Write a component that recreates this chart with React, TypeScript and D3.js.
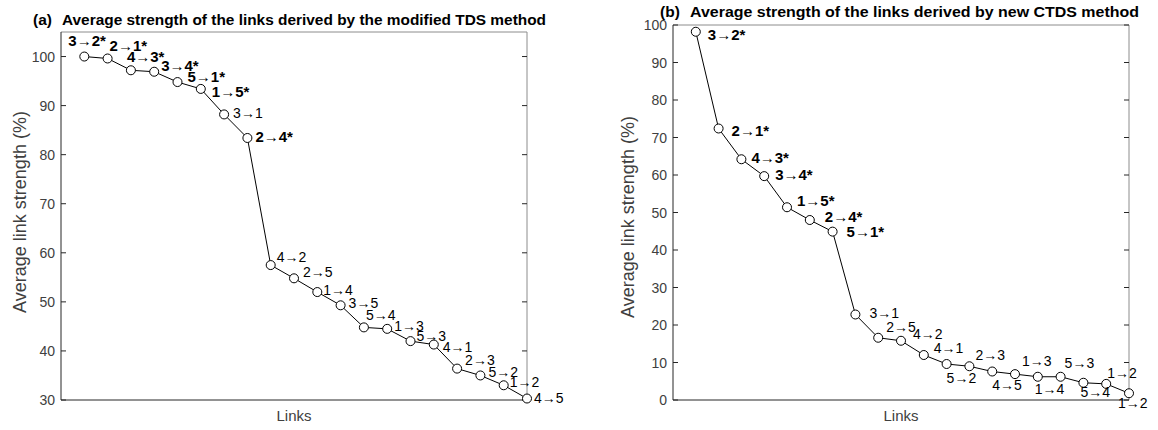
import React from "react";
import * as d3 from "d3";

// panel (a): modified TDS
const linksA = ["3→2*", "2→1*", "4→3*", "3→4*", "5→1*", "1→5*", "3→1", "2→4*", "4→2", "2→5",
    "1→4", "3→5", "5→4", "1→3", "5→3", "4→1", "2→3", "5→2", "1→2", "4→5"];
const valuesA = [100, 99.6, 97.2, 96.9, 94.8, 93.4, 88.2, 83.4, 57.5, 54.8,
    52.0, 49.3, 44.8, 44.5, 42.0, 41.3, 36.4, 35.0, 33.0, 30.3];
const ticksA = [30, 40, 50, 60, 70, 80, 90, 100];

// panel (b): new CTDS
const linksB = ["3→2*", "2→1*", "4→3*", "3→4*", "1→5*", "2→4*", "5→1*", "3→1", "2→5", "4→2",
    "4→1", "5→2", "2→3", "4→5", "1→3", "1→4", "5→3", "5→4", "1→2", "1→2"];
const valuesB = [98.2, 72.4, 64.2, 59.7, 51.4, 48.0, 44.9, 22.8, 16.6, 15.8,
    12.0, 9.6, 9.0, 7.6, 6.9, 6.2, 6.2, 4.6, 4.3, 1.8];
const ticksB = [0, 10, 20, 30, 40, 50, 60, 70, 80, 90, 100];

// label offsets from each marker [dx, dy]
const offA = [[-16, -11], [2, -7], [-4, -8], [7, -1], [10, 0], [11, 8], [9, 4], [8, 4], [6, -3], [9, -1],
    [6, 3], [8, 3], [2, -7], [7, 2], [6, 0], [9, 7], [8, -4], [8, 2], [6, 2], [7, 4]];
const offB = [[12, 8], [13, 7], [10, 4], [11, 4], [10, -1], [15, 2], [14, 5], [14, 3], [8, -6], [12, -2],
    [10, -2], [0, 19], [6, -6], [0, 18], [7, -8], [-3, 17], [4, -9], [-3, 14], [1, -6], [-11, 15]];

const FONT = "'Liberation Sans', Arial, Helvetica, sans-serif";
const AX = "#262626";
const BOX = "#8c8c8c";

type PanelProps = {
    tag: string;
    title: string;
    tagX: number;
    titleX: number;
    titleW: number;
    titleY: number;
    left: number;
    right: number;
    top: number;
    bottom: number;
    domain: [number, number];
    ticks: number[];
    links: string[];
    values: number[];
    offsets: number[][];
    ylabelX: number;
    ylabelY: number;
};

const Panel = (p: PanelProps) => {
    const x = d3.scaleLinear().domain([0, p.values.length]).range([p.left, p.right]);
    const y = d3.scaleLinear().domain(p.domain).range([p.bottom, p.top]);
    const line = d3
        .line<number>()
        .x((d, i) => x(i + 1))
        .y((d) => y(d));

    return (
        <g>
            <text x={p.tagX} y={p.titleY} fontSize={15.5} fontWeight="bold" fill="#000">
                {p.tag}
            </text>
            <text
                x={p.titleX}
                y={p.titleY}
                fontSize={15.5}
                fontWeight="bold"
                fill="#000"
                textLength={p.titleW}
                lengthAdjust="spacingAndGlyphs"
            >
                {p.title}
            </text>
            {/* box */}
            <line x1={p.left} x2={p.right} y1={p.top} y2={p.top} stroke={BOX} />
            <line x1={p.right} x2={p.right} y1={p.top} y2={p.bottom} stroke={BOX} />
            <line x1={p.left} x2={p.right} y1={p.bottom} y2={p.bottom} stroke={AX} />
            <line x1={p.left} x2={p.left} y1={p.top} y2={p.bottom} stroke={AX} />
            {p.ticks.map((t) => (
                <g key={t}>
                    <line x1={p.left} x2={p.left + 5} y1={y(t)} y2={y(t)} stroke={AX} />
                    <line x1={p.right - 5} x2={p.right} y1={y(t)} y2={y(t)} stroke={AX} />
                    <text x={p.left - 6} y={y(t) + 5} textAnchor="end" fontSize={14} fill="#404040">
                        {t}
                    </text>
                </g>
            ))}
            <text
                transform={`translate(${p.ylabelX},${p.ylabelY}) rotate(-90)`}
                textAnchor="middle"
                fontSize={18}
                fill="#404040"
            >
                Average link strength (%)
            </text>
            <text x={(p.left + p.right) / 2} y={421} textAnchor="middle" fontSize={15} fill="#404040">
                Links
            </text>
            <path d={line(p.values) || ""} fill="none" stroke="#000" strokeWidth={1} />
            {p.values.map((v, i) => (
                <circle key={i} cx={x(i + 1)} cy={y(v)} r={4.5} fill="#fff" stroke="#000" strokeWidth={1} />
            ))}
            {p.values.map((v, i) => {
                const bold = p.links[i].includes("*");
                return (
                    <text
                        key={i}
                        x={x(i + 1) + p.offsets[i][0]}
                        y={y(v) + p.offsets[i][1]}
                        fontSize={bold ? 15 : 14}
                        fontWeight={bold ? "bold" : "normal"}
                        fill="#000"
                    >
                        {p.links[i]}
                    </text>
                );
            })}
        </g>
    );
};

export default function App() {
    return (
        <svg
            width={1158}
            height={430}
            style={{ position: "absolute", left: 0, top: 0, background: "#fff" }}
            fontFamily={FONT}
        >
            <Panel
                tag="(a)"
                title="Average strength of the links derived by the modified TDS method"
                tagX={33}
                titleX={62}
                titleW={484}
                titleY={25}
                left={61}
                right={527}
                top={32}
                bottom={400}
                domain={[30, 105]}
                ticks={ticksA}
                links={linksA}
                values={valuesA}
                offsets={offA}
                ylabelX={26}
                ylabelY={212}
            />
            <Panel
                tag="(b)"
                title="Average strength of the links derived by new CTDS method"
                tagX={660}
                titleX={690}
                titleW={449}
                titleY={17}
                left={673}
                right={1129}
                top={25}
                bottom={400}
                domain={[0, 100]}
                ticks={ticksB}
                links={linksB}
                values={valuesB}
                offsets={offB}
                ylabelX={634}
                ylabelY={217}
            />
        </svg>
    );
}
